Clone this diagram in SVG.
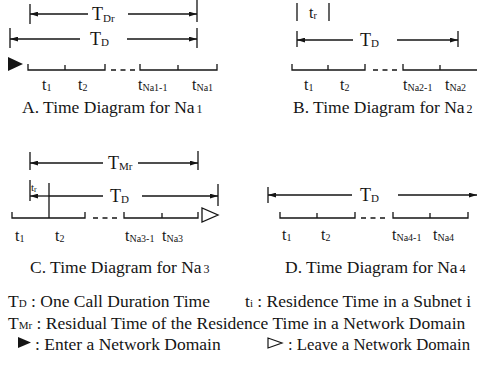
<svg xmlns="http://www.w3.org/2000/svg" width="477" height="375" viewBox="0 0 477 375">
<defs>
<marker id="ah" viewBox="0 0 10 6" refX="10" refY="3" markerWidth="8" markerHeight="5" markerUnits="userSpaceOnUse" orient="auto-start-reverse"><path d="M0,0 L10,3 L0,6 z" fill="#151515"/></marker>
<style>
.ln{stroke:#151515;stroke-width:1.3;fill:none}
.dl{stroke:#151515;stroke-width:1.3;fill:none}
.ds{stroke:#151515;stroke-width:1.3;fill:none;stroke-dasharray:5 4.5}
.t{font-family:"Liberation Serif","Times New Roman",serif;fill:#151515}
.big{font-size:18px}
.lab{font-size:16px}
.sub{font-size:10px}
.cap{font-size:17.5px}
</style>
</defs>
<rect width="477" height="375" fill="#fff"/>

<g id="panel-a">
  <path class="ln" d="M30,4V24M197,0V22M10,28V48M197,28V48"/>
  <path class="dl" d="M88,14H30" marker-end="url(#ah)"/>
  <path class="dl" d="M128,14H197" marker-end="url(#ah)"/>
  <text class="t big" x="92" y="20">T<tspan font-size="11" dy="2">Dr</tspan></text>
  <path class="dl" d="M80,39H10" marker-end="url(#ah)"/>
  <path class="dl" d="M127,39H197" marker-end="url(#ah)"/>
  <text class="t big" x="90" y="45">T<tspan font-size="11" dy="1">D</tspan></text>
  <polygon points="8,57 8,71 23,64" fill="#151515"/>
  <path class="ln" d="M28,64V70H105V64M65,70V65M140,64V70H217V64M178,70V65"/>
  <path class="ds" d="M111,70H137"/>
  <text class="t lab" x="42" y="90">t<tspan font-size="10" dy="1">1</tspan></text>
  <text class="t lab" x="78" y="90">t<tspan font-size="10" dy="1">2</tspan></text>
  <text class="t lab" x="138" y="90">t<tspan font-size="10" dy="1">Na1-1</tspan></text>
  <text class="t lab" x="192" y="90">t<tspan font-size="10" dy="1">Na1</tspan></text>
  <text class="t cap" x="22" y="113">A. Time Diagram for Na<tspan font-size="12" dx="2">1</tspan></text>
</g>

<g id="panel-b">
  <path class="ln" d="M297,3V21M329,3V21M297,31V47M458,31V47"/>
  <text class="t lab" x="309" y="18">t<tspan font-size="10" dy="1">r</tspan></text>
  <path class="dl" d="M353,40H297" marker-end="url(#ah)"/>
  <path class="dl" d="M397,40H458" marker-end="url(#ah)"/>
  <text class="t big" x="360" y="46">T<tspan font-size="11" dy="1">D</tspan></text>
  <path class="ln" d="M292,64V70H365V64M328,70V65M403,64V70H477M440,70V65"/>
  <path class="ds" d="M373,70H399"/>
  <text class="t lab" x="304" y="90">t<tspan font-size="10" dy="1">1</tspan></text>
  <text class="t lab" x="340" y="90">t<tspan font-size="10" dy="1">2</tspan></text>
  <text class="t lab" x="403" y="90">t<tspan font-size="10" dy="1">Na2-1</tspan></text>
  <text class="t lab" x="445" y="90">t<tspan font-size="10" dy="1">Na2</tspan></text>
  <text class="t cap" x="293" y="113">B. Time Diagram for Na<tspan font-size="12" dx="2">2</tspan></text>
</g>

<g id="panel-c">
  <path class="ln" d="M30,152V170M198,151V170"/>
  <path class="dl" d="M103,163H30" marker-end="url(#ah)"/>
  <path class="dl" d="M138,163H198" marker-end="url(#ah)"/>
  <text class="t big" x="108" y="169">T<tspan font-size="11" dy="1">Mr</tspan></text>
  <path class="ln" d="M30,180V201M49,183V218M218,184V206"/>
  <text class="t" font-size="11" x="31" y="191">t<tspan font-size="8" dy="1">r</tspan></text>
  <path class="dl" d="M49,196H30" marker-end="url(#ah)"/>
  <path class="dl" d="M49,196H103"/>
  <path class="dl" d="M142,196H218" marker-end="url(#ah)"/>
  <text class="t big" x="110" y="202">T<tspan font-size="11" dy="1">D</tspan></text>
  <path class="ln" d="M12,212V218H85V212M124,212V218H198V212M162,218V213"/>
  <path class="ds" d="M93,218H119"/>
  <polygon points="202,208 202,222 218,215" fill="none" stroke="#151515" stroke-width="1.3"/>
  <text class="t lab" x="15" y="241">t<tspan font-size="10" dy="1">1</tspan></text>
  <text class="t lab" x="55" y="241">t<tspan font-size="10" dy="1">2</tspan></text>
  <text class="t lab" x="125" y="241">t<tspan font-size="10" dy="1">Na3-1</tspan></text>
  <text class="t lab" x="162" y="241">t<tspan font-size="10" dy="1">Na3</tspan></text>
  <text class="t cap" x="30" y="273">C. Time Diagram for Na<tspan font-size="12" dx="2">3</tspan></text>
</g>

<g id="panel-d">
  <path class="ln" d="M268,187V203"/>
  <path class="dl" d="M352,195H268" marker-end="url(#ah)"/>
  <path class="dl" d="M398,195H477" marker-end="url(#ah)"/>
  <text class="t big" x="360" y="201">T<tspan font-size="11" dy="1">D</tspan></text>
  <path class="ln" d="M280,212V218H355V212M317,218V213M393,212V218H468V212M430,218V213"/>
  <path class="ds" d="M361,218H388"/>
  <text class="t lab" x="282" y="240">t<tspan font-size="10" dy="1">1</tspan></text>
  <text class="t lab" x="321" y="240">t<tspan font-size="10" dy="1">2</tspan></text>
  <text class="t lab" x="392" y="240">t<tspan font-size="10" dy="1">Na4-1</tspan></text>
  <text class="t lab" x="433" y="240">t<tspan font-size="10" dy="1">Na4</tspan></text>
  <text class="t cap" x="285" y="273">D. Time Diagram for Na<tspan font-size="12" dx="2">4</tspan></text>
</g>

<g id="legend">
  <text class="t cap" x="8" y="307">T<tspan font-size="11" dy="0">D</tspan> : One Call Duration Time</text>
  <text class="t cap" x="245" y="307">t<tspan font-size="11">i</tspan> : Residence Time in a Subnet i</text>
  <text class="t cap" x="8" y="329">T<tspan font-size="11">Mr</tspan> : Residual Time of the Residence Time in a Network Domain</text>
  <polygon points="18,337 18,348 31,342.5" fill="#151515"/>
  <text class="t cap" x="35" y="350">: Enter a Network Domain</text>
  <polygon points="268,338 268,348 282,343" fill="none" stroke="#151515" stroke-width="1.2"/>
  <text class="t cap" x="288" y="350" textLength="182" lengthAdjust="spacingAndGlyphs">: Leave a Network Domain</text>
</g>
</svg>
